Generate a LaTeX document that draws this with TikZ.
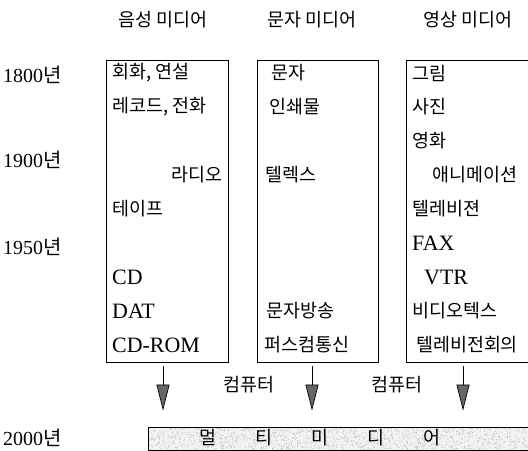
\documentclass[tikz,border=0pt]{standalone}
\usepackage{fontspec}
\setmainfont{Liberation Serif}
\newfontfamily\kr{Noto Sans CJK KR}
\usetikzlibrary{arrows.meta}
\begin{document}
\begin{tikzpicture}[x=1bp,y=-1bp,
  kt/.style={font=\kr\fontsize{18.5}{22}\selectfont, inner sep=0pt, anchor=west},
  kte/.style={font=\kr\fontsize{18.5}{22}\selectfont, inner sep=0pt, anchor=east},
  lt/.style={font=\fontsize{22}{26}\selectfont, inner sep=0pt, anchor=west},
  yr/.style={font=\fontsize{20}{24}\selectfont, inner sep=0pt, anchor=west},
  hd/.style={font=\kr\fontsize{18.5}{22}\selectfont, inner sep=0pt},
  mbox/.style={draw, line width=0.8pt, inner sep=0pt},
  speck/.style={fill=gray!60},
  arr/.style={line width=0.7pt, -{Triangle[length=26bp,width=13bp,fill=gray!50!black!80,line width=0.7pt]}}
]
\useasboundingbox (0,0) rectangle (528,451);
\clip (0,0) rectangle (528,451);

% headers
\node[hd] (h1) at (163,20) {음성 미디어};
\node[hd] (h2) at (312,20) {문자 미디어};
\node[hd] (h3) at (468,20) {영상 미디어};

% years
\node[yr] (y1) at (3,75) {1800{\kr 년}};
\node[yr] (y2) at (3,160) {1900{\kr 년}};
\node[yr] (y3) at (3,247) {1950{\kr 년}};
\node[yr] (y4) at (3,438) {2000{\kr 년}};

% boxes
\node[mbox, minimum width=122bp, minimum height=302bp] (b1) at (167,211) {};
\node[mbox, minimum width=121bp, minimum height=302bp] (b2) at (317.5,211) {};
\node[mbox, minimum width=140bp, minimum height=302bp] (b3) at (476,211) {};

% column 1
\node[kt] (c11) at (112,73) {회화, 연설};
\node[kt] (c12) at (112,107) {레코드, 전화};
\node[kte] (c13) at (223,175) {라디오};
\node[kt] (c14) at (112,209) {테이프};
\node[lt] (c15) at (112,277) {CD};
\node[lt] (c16) at (112,311) {DAT};
\node[lt] (c17) at (112,345) {CD-ROM};

% column 2
\node[kt] (c21) at (271,73) {문자};
\node[kt] (c22) at (269,107) {인쇄물};
\node[kt] (c23) at (265,175) {텔렉스};
\node[kt] (c24) at (266,311) {문자방송};
\node[kt] (c25) at (264,345) {퍼스컴통신};

% column 3
\node[kt] (c31) at (412,73) {그림};
\node[kt] (c32) at (412,107) {사진};
\node[kt] (c33) at (412,141) {영화};
\node[kt] (c34) at (432,175) {애니메이션};
\node[kt] (c35) at (412,209) {텔레비젼};
\node[lt] (c36) at (412,243) {FAX};
\node[lt] (c37) at (424,277) {VTR};
\node[kt] (c38) at (412,311) {비디오텍스};
\node[kt] (c39) at (416,345) {텔레비전회의};

% bottom multimedia box
\node[fill=gray!10, inner sep=0pt, minimum width=420bp, minimum height=23bp] (mmf) at (358,438.5) {};
\pgfmathsetseed{7}
\foreach \i in {1,...,1400} {
  \fill[speck] ({149+380*rnd},{428+21.5*rnd}) circle (0.45bp);
}
\node[mbox, minimum width=420bp, minimum height=23bp] (mm) at (358,438.5) {};
\node[hd] (mmt) at (320,438) {멀\hspace{39bp}티\hspace{39bp}미\hspace{39bp}디\hspace{39bp}어};

% computer labels
\node[hd] (k1) at (249,385) {컴퓨터};
\node[hd] (k2) at (397,385) {컴퓨터};

% arrows
\coordinate (x1) at (163,0);
\coordinate (x2) at (312,0);
\coordinate (x3) at (463,0);
\draw[arr] ([yshift=-4bp]b1.south -| x1) -- ([yshift=16bp]mm.north -| x1);
\draw[arr] ([yshift=-4bp]b2.south -| x2) -- ([yshift=16bp]mm.north -| x2);
\draw[arr] ([yshift=-4bp]b3.south -| x3) -- ([yshift=16bp]mm.north -| x3);
\end{tikzpicture}
\end{document}
